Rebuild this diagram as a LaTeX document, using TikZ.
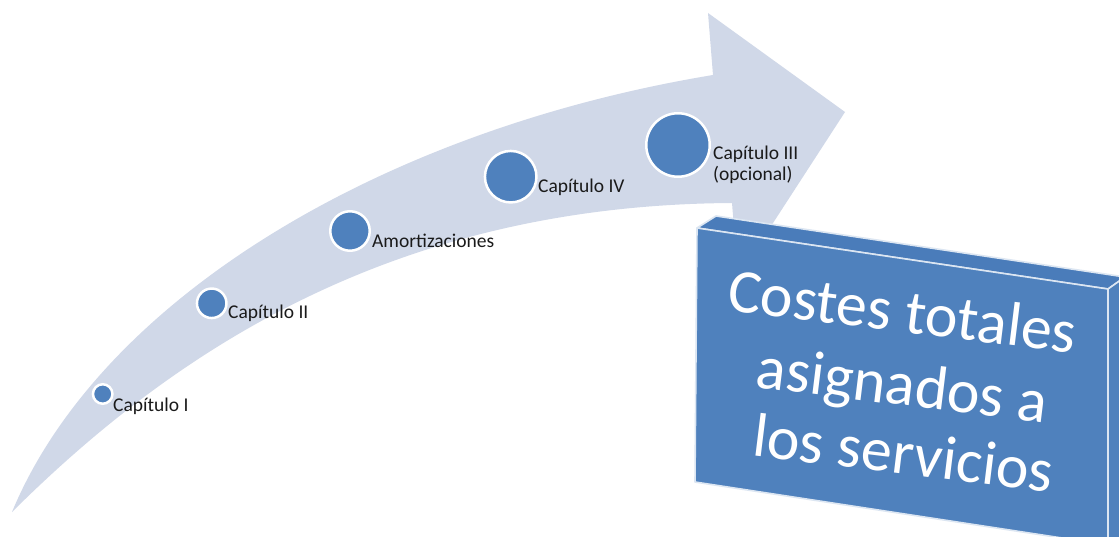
\documentclass[tikz,border=0pt]{standalone}
\usepackage{fontspec}
\setmainfont{Carlito}
\definecolor{arrowfill}{HTML}{D0D8E8}
\definecolor{accent}{HTML}{4F81BD}
\definecolor{accenttop}{HTML}{4A7CBA}
\definecolor{labeltext}{HTML}{1A1A1A}
\begin{document}
\begin{tikzpicture}[x=1pt,y=-1pt,
  dot/.style={circle,fill=accent,draw=white,line width=2.5pt,inner sep=0pt},
  lbl/.style={anchor=base west,inner sep=0pt,text=labeltext,font=\fontsize{19.5}{21}\selectfont},
  big/.style={anchor=base,inner sep=0pt,text=white,rotate=-7,font=\fontsize{62}{70}\selectfont},
  face/.style={fill=accent,draw=white!80!accent,line width=1.6pt,line join=round}]
\useasboundingbox (0,0) rectangle (1119,537);
\fill[white] (0,0) rectangle (1119,537);
% curved arrow
\fill[arrowfill] (12,512) .. controls (100,300) and (380,130) .. (713,75)
  -- (708,13) -- (845,112) -- (762,240) -- (735,240) -- (732,203)
  .. controls (400,205) and (180,345) .. (12,512) -- cycle;
% 3D box
\path[face,fill=accenttop] (697,228) -- (716,216) -- (1125,277) -- (1108,289) -- cycle;
\path[face] (1108,289) -- (1125,277) -- (1125,545) -- (1108,545) -- cycle;
\path[face] (697,228) -- (1108,289) -- (1108,545) -- (695,482) -- cycle;
\node[big] (t1) at (900,332) {Costes totales};
\node[big] (t2) at (900,405) {asignados a};
\node[big] (t3) at (901,474) {los servicios};
% milestones
\node[dot,minimum size=19.5pt] (c1) at (102.7,394) {};
\node[dot,minimum size=29.5pt] (c2) at (211.7,303.3) {};
\node[dot,minimum size=39.5pt] (c3) at (350,231) {};
\node[dot,minimum size=51.5pt] (c4) at (510.7,176.7) {};
\node[dot,minimum size=63.5pt] (c5) at (678,145) {};
\node[lbl] (l1) at (113,411) {Capítulo I};
\node[lbl] (l2) at (228,319) {Capítulo II};
\node[lbl] (l3) at (372,248) {Amortizaciones};
\node[lbl] (l4) at (538,193) {Capítulo IV};
\node[lbl] (l5) at (713,160) {\begin{tabular}[t]{@{}l@{}}Capítulo III\\(opcional)\end{tabular}};
\end{tikzpicture}
\end{document}
